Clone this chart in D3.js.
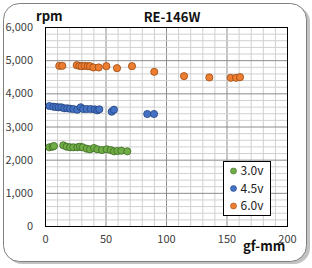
<!DOCTYPE html>
<html>
<head>
<meta charset="utf-8">
<script src="https://cdn.jsdelivr.net/npm/d3@7"></script>
<style>
  body { margin: 0; background: #fff; }
  svg { display: block; font-family: "Noto Sans CJK JP", "Liberation Sans", sans-serif; }
</style>
</head>
<body>
<svg id="chart"></svg>
<script>
const W = 312, H = 268;
const M = { left: 45, right: 25, top: 27, bottom: 42 };

// 3.0v
const g30X = [3.6, 6.2, 7.4, 15.1, 17.9, 20.7, 23.4, 26.7, 28.9, 31.2, 34.5, 37.2, 40.5, 43.2, 47.1, 51.0, 54.3, 57.0, 59.8, 63.1, 68.0];
const g30Y = [2373, 2390, 2412, 2433, 2391, 2373, 2373, 2373, 2391, 2373, 2330, 2312, 2352, 2312, 2291, 2312, 2291, 2252, 2261, 2270, 2252];
// 4.5v
const g45X = [3.6, 6.9, 9.1, 11.3, 13.5, 15.9, 18.4, 20.7, 23.4, 26.7, 29.5, 31.6, 34.5, 37.8, 41.1, 43.2, 44.9, 55.1, 57.0, 84.5, 90.1];
const g45Y = [3618, 3597, 3588, 3579, 3579, 3549, 3549, 3537, 3527, 3506, 3579, 3527, 3527, 3527, 3518, 3488, 3518, 3446, 3506, 3377, 3377];
// 6.0v
const g60X = [11.8, 14.3, 26.2, 28.4, 30.3, 32.8, 35.3, 37.2, 39.9, 44.4, 50.7, 59.5, 71.9, 90.3, 114.9, 135.8, 153.5, 157.9, 161.2];
const g60Y = [4829, 4829, 4849, 4829, 4819, 4829, 4819, 4819, 4780, 4780, 4819, 4759, 4819, 4648, 4518, 4479, 4467, 4467, 4488];

const seriesNames = ["3.0v", "4.5v", "6.0v"];
const seriesColors = ["#70ad47", "#4472c4", "#ed7d31"];
const seriesStrokes = ["#3e6b22", "#23437e", "#9a4a12"];
const seriesX = [g30X, g45X, g60X];
const seriesY = [g30Y, g45Y, g60Y];

const xTicks = [0, 50, 100, 150, 200];
const yTicks = [0, 1000, 2000, 3000, 4000, 5000, 6000];

const svg = d3.select("#chart").attr("width", W).attr("height", H);

// shadow + rounded frame
svg.append("rect").attr("x", 6).attr("y", 6).attr("width", W - 8).attr("height", H - 10)
   .attr("rx", 16).attr("fill", "#9a9a9a").attr("opacity", 0.6);
svg.append("rect").attr("x", 3.5).attr("y", 3.5).attr("width", W - 9).attr("height", H - 10)
   .attr("rx", 16).attr("fill", "#fff").attr("stroke", "#7f7f7f").attr("stroke-width", 1);

const x = d3.scaleLinear().domain([0, 200]).range([M.left, W - M.right]);
const y = d3.scaleLinear().domain([0, 6000]).range([H - M.bottom, M.top]);

// minor grid
svg.append("g").selectAll("line").data(d3.range(0, 201, 10)).join("line")
   .attr("x1", d => x(d) + 0.5).attr("x2", d => x(d) + 0.5)
   .attr("y1", y(0)).attr("y2", y(6000))
   .attr("stroke", d => d % 50 === 0 ? "#8c8c8c" : "#d0d0d0").attr("stroke-width", 1);
svg.append("g").selectAll("line").data(d3.range(0, 6001, 200)).join("line")
   .attr("y1", d => y(d) + 0.5).attr("y2", d => y(d) + 0.5)
   .attr("x1", x(0)).attr("x2", x(200))
   .attr("stroke", d => d % 1000 === 0 ? "#8c8c8c" : "#d0d0d0").attr("stroke-width", 1);

// plot border
svg.append("rect").attr("x", x(0) + 0.5).attr("y", y(6000) + 0.5)
   .attr("width", x(200) - x(0)).attr("height", y(0) - y(6000))
   .attr("fill", "none").attr("stroke", "#000").attr("stroke-width", 1);

// axes
const xAxis = svg.append("g").attr("transform", `translate(0,${y(0)})`)
   .call(d3.axisBottom(x).tickValues(xTicks).tickSize(0).tickPadding(9));
const yAxis = svg.append("g").attr("transform", `translate(${x(0) - 4},0)`)
   .call(d3.axisLeft(y).tickValues(yTicks).tickSize(0).tickPadding(8).tickFormat(d3.format(",")));
[xAxis, yAxis].forEach(a => {
  a.select(".domain").remove();
  a.selectAll("text").attr("fill", "#404040").style("font-size", "11px")
   .style("font-family", "'Noto Sans CJK JP', 'Liberation Sans', sans-serif");
});

// points
seriesNames.forEach((name, i) => {
  const pts = seriesX[i].map((v, j) => [v, seriesY[i][j]]);
  svg.append("g").selectAll("circle").data(pts).join("circle")
     .attr("cx", d => x(d[0])).attr("cy", d => y(d[1])).attr("r", 3.6)
     .attr("fill", seriesColors[i]).attr("stroke", seriesStrokes[i]).attr("stroke-width", 0.8);
});

// titles
svg.append("text").attr("x", 172).attr("y", 22).attr("text-anchor", "middle")
   .style("font-size", "13px").style("font-weight", "bold").attr("fill", "#111").text("RE-146W");
svg.append("text").attr("x", 36).attr("y", 21)
   .style("font-size", "13px").style("font-weight", "bold").attr("fill", "#111").text("rpm");
svg.append("text").attr("x", 243).attr("y", 251)
   .style("font-size", "13px").style("font-weight", "bold").attr("fill", "#111").text("gf-mm");

// legend
const lg = svg.append("g").attr("transform", "translate(223.5,161.5)");
lg.append("rect").attr("width", 47).attr("height", 54).attr("fill", "#fff")
  .attr("stroke", "#000").attr("stroke-width", 1);
seriesNames.forEach((name, i) => {
  lg.append("circle").attr("cx", 10).attr("cy", 9.5 + i * 17.5).attr("r", 3)
    .attr("fill", seriesColors[i]).attr("stroke", seriesStrokes[i]).attr("stroke-width", 0.6);
  lg.append("text").attr("x", 17).attr("y", 13.5 + i * 17.5)
    .style("font-size", "12px").attr("fill", "#222").text(name);
});
</script>
</body>
</html>
